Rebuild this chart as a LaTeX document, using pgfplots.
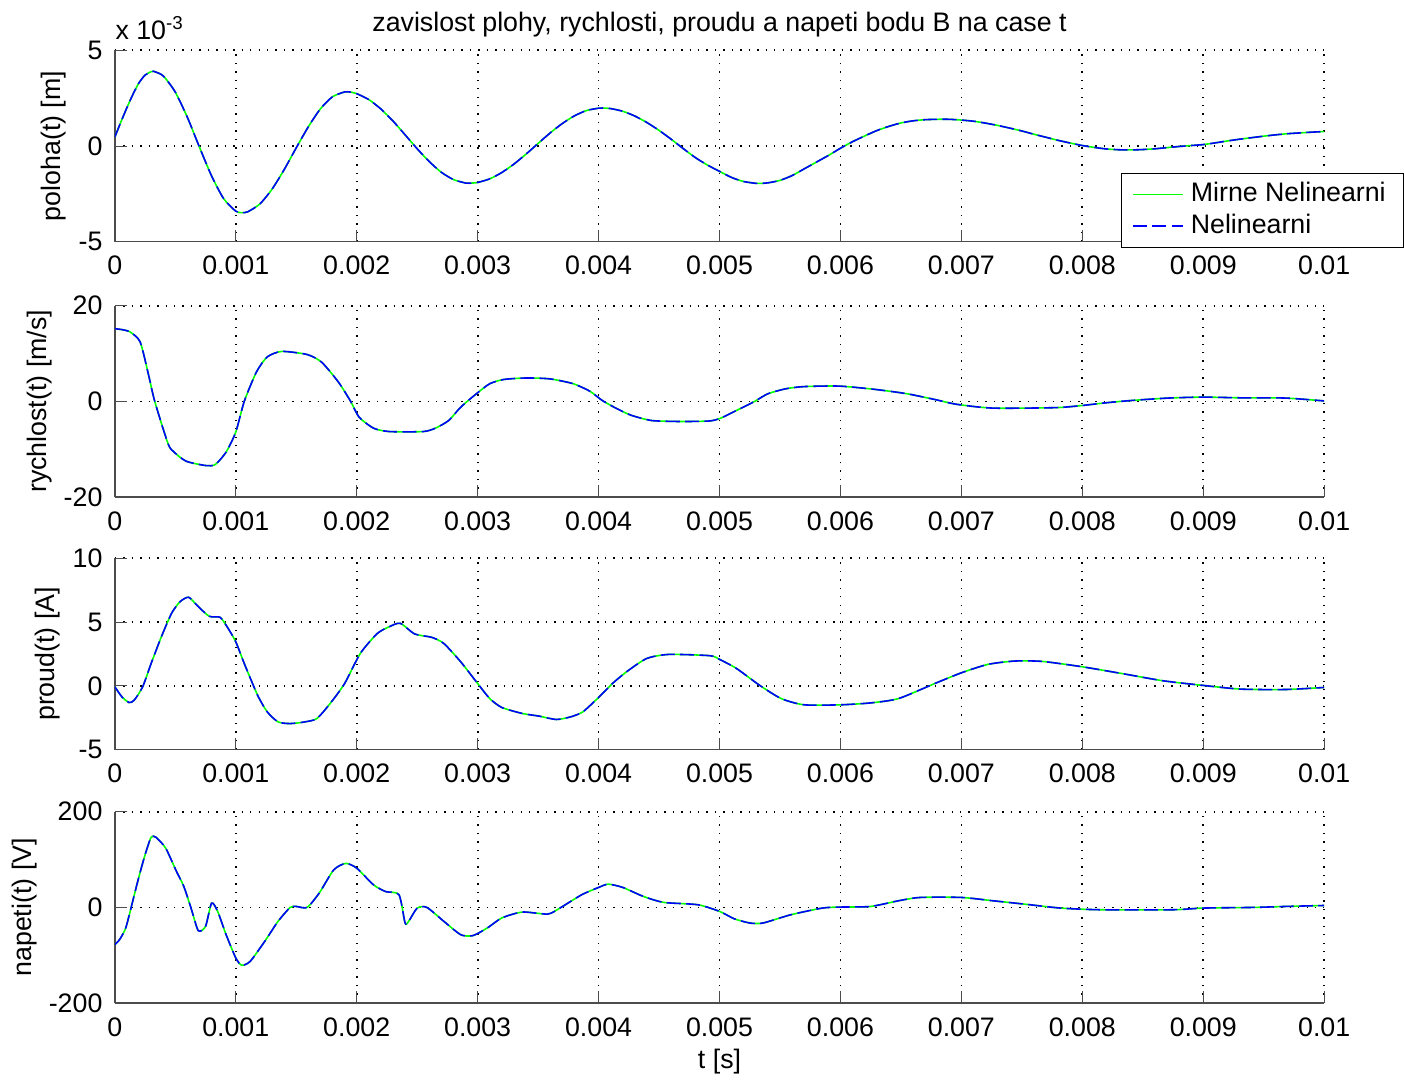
\documentclass[border=0pt]{standalone}
\usepackage{fontspec}
\setmainfont{Liberation Sans}
\usepackage{pgfplots}
\pgfplotsset{compat=1.18}
\usepackage{pgfplotstable}

% t in ms, poloha in 1e-3 m
\pgfplotstableread{
t y
0 0.46
0.05 1.25
0.1 2.0
0.15 2.7
0.2 3.3
0.25 3.7
0.3 3.88
0.32 3.9
0.4 3.66
0.5 2.81
0.6 1.49
0.7 -0.07
0.8 -1.57
0.9 -2.76
1.0 -3.41
1.05 -3.49
1.1 -3.44
1.2 -3.03
1.3 -2.26
1.4 -1.24
1.5 -0.1
1.6 1.0
1.7 1.94
1.8 2.57
1.9 2.82
1.95 2.81
2.0 2.73
2.1 2.42
2.2 1.93
2.3 1.30
2.4 0.58
2.5 -0.15
2.6 -0.82
2.7 -1.38
2.8 -1.76
2.9 -1.94
2.93 -1.95
3.0 -1.91
3.1 -1.72
3.2 -1.39
3.3 -0.95
3.4 -0.43
3.5 0.13
3.6 0.68
3.7 1.17
3.8 1.57
3.9 1.85
4.0 1.97
4.03 1.98
4.1 1.95
4.2 1.81
4.3 1.56
4.4 1.22
4.5 0.81
4.6 0.35
4.7 -0.14
4.8 -0.61
4.9 -1.0
5.0 -1.33
5.1 -1.65
5.2 -1.86
5.31 -1.96
5.4 -1.93
5.5 -1.8
5.6 -1.55
5.7 -1.2
5.8 -0.85
5.9 -0.5
6.0 -0.12
6.1 0.22
6.2 0.52
6.3 0.8
6.4 1.02
6.5 1.2
6.6 1.31
6.7 1.37
6.8 1.39
6.9 1.39
7.0 1.35
7.1 1.29
7.2 1.19
7.3 1.07
7.4 0.93
7.5 0.78
7.6 0.61
7.7 0.45
7.8 0.29
7.9 0.15
8.0 0.02
8.1 -0.08
8.2 -0.16
8.3 -0.2
8.4 -0.21
8.5 -0.19
8.6 -0.15
8.7 -0.09
8.8 -0.03
8.9 0.02
9.0 0.07
9.1 0.16
9.2 0.26
9.3 0.35
9.4 0.43
9.5 0.51
9.6 0.58
9.7 0.64
9.8 0.68
9.9 0.72
10.0 0.75
}\poloha

\pgfplotstableread{
t y
0 15.2
0.06 15.0
0.127 14.5
0.21 12.4
0.28 5.4
0.33 0
0.44 -8.85
0.49 -10.6
0.59 -12.5
0.75 -13.4
0.83 -13.2
0.92 -10.6
1.0 -6.4
1.07 0
1.17 6.1
1.26 9.3
1.38 10.45
1.59 9.8
1.71 8.2
1.85 4.0
1.95 0
2.02 -3.3
2.14 -5.6
2.27 -6.3
2.55 -6.3
2.65 -5.6
2.76 -4.0
2.86 -1.2
2.98 1.4
3.10 3.7
3.22 4.6
3.41 4.9
3.60 4.7
3.79 3.7
3.93 2.1
4.03 0.2
4.15 -1.5
4.27 -2.9
4.44 -4.0
4.68 -4.2
4.91 -4.1
5.0 -3.6
5.14 -1.9
5.29 0
5.40 1.6
5.55 2.65
5.70 3.1
5.99 3.2
6.29 2.5
6.55 1.6
6.78 0.4
6.96 -0.6
7.26 -1.4
7.78 -1.3
8.0 -0.85
8.19 -0.3
8.41 0.2
8.71 0.7
9.0 0.9
9.31 0.75
9.68 0.7
10.0 0.1
}\rychlost

\pgfplotstableread{
t y
0 -0.08
0.058 -0.86
0.117 -1.31
0.16 -1.13
0.23 -0.08
0.30 1.75
0.385 3.85
0.47 5.7
0.54 6.6
0.61 6.94
0.68 6.3
0.78 5.45
0.87 5.37
0.93 4.6
1.0 3.45
1.07 1.75
1.18 -0.73
1.26 -2.04
1.35 -2.83
1.45 -2.96
1.57 -2.83
1.67 -2.57
1.78 -1.39
1.90 0.18
2.03 2.54
2.17 4.1
2.27 4.63
2.36 4.9
2.48 4.06
2.62 3.8
2.72 3.32
2.86 1.88
3.0 0.18
3.10 -1.0
3.20 -1.7
3.37 -2.17
3.51 -2.38
3.65 -2.64
3.77 -2.43
3.87 -2.04
3.99 -1.0
4.13 0.31
4.25 1.23
4.40 2.15
4.58 2.46
4.92 2.36
5.0 2.07
5.14 1.36
5.33 0.05
5.51 -1.0
5.70 -1.49
6.0 -1.49
6.25 -1.34
6.48 -1.0
6.78 0.18
7.0 1.02
7.22 1.68
7.44 1.94
7.67 1.91
8.0 1.49
8.34 0.94
8.67 0.39
9.0 0.03
9.31 -0.26
9.68 -0.29
10.0 -0.13
}\proud

\pgfplotstableread{
t y
0 -77.8
0.04 -67
0.09 -43
0.144 9
0.196 61
0.25 110
0.30 146.5
0.34 146.5
0.42 124
0.51 75
0.57 44
0.63 -1.4
0.69 -48.6
0.75 -39.6
0.80 9
0.85 -8.3
0.92 -57
1.0 -105.6
1.05 -121
1.12 -112.5
1.24 -70.8
1.35 -29
1.45 0
1.50 2
1.59 0
1.69 30
1.81 78.5
1.91 92
2.0 82
2.14 47
2.24 33
2.35 26.4
2.40 -32.6
2.43 -29
2.50 -1.4
2.58 0
2.72 -29
2.86 -57
2.96 -59
3.08 -43
3.20 -22
3.37 -9.7
3.58 -13.9
3.68 -1.4
3.86 26.4
4.0 41.7
4.08 48.6
4.20 41.7
4.37 23
4.54 10.4
4.82 5.6
5.0 -8.3
5.12 -23.6
5.25 -32.6
5.36 -32.6
5.59 -15.3
5.85 -1.4
6.0 0.7
6.25 2
6.48 13.9
6.66 20.8
7.0 20.8
7.26 13.9
7.52 6.9
7.82 -1.4
8.15 -4.9
8.75 -4.9
9.0 -1.4
9.42 0
9.68 2
10.0 4
}\napeti

\newcommand{\fs}{\fontsize{7.6}{9}\selectfont}

\pgfplotsset{
  mat/.style={
    scale only axis, width=12.07cm, height=1.91cm,
    xmin=0, xmax=10,
    clip mode=individual,
    axis lines=left, axis line style={-, draw=black!70},
    tick align=inside, major tick length=0.12cm,
    tick style={black!70},
    grid=major, major grid style={dotted, black, line width=0.5pt},
    xtick={0,1,...,10},
    xticklabels={0,0.001,0.002,0.003,0.004,0.005,0.006,0.007,0.008,0.009,0.01},
    /pgf/number format/assume math mode=true,
    tick label style={font=\fs},
    label style={font=\fs},
    xticklabel style={yshift=-0.02cm},
    ylabel shift=-0.12cm,
  },
  mir/.style={green, line width=0.45pt, smooth, tension=0.4},
  nel/.style={blue, line width=0.45pt, smooth, tension=0.4, dash pattern=on 4pt off 1.5pt},
}

\begin{document}
\begin{tikzpicture}[font=\fs]
\begin{axis}[mat, anchor=north west, at={(0,0)},
    ymin=-5, ymax=5, ytick={-5,0,5},
    ylabel={poloha(t) [m]},
    title={zavislost plohy, rychlosti, proudu a napeti bodu B na case t},
    title style={font=\fs, yshift=-0.2cm},
    legend style={at={(rel axis cs:1.066,0.36)}, anchor=north east,
        draw=black, font=\fs, inner xsep=3pt, inner ysep=0.5pt, row sep=-2pt},
    legend cell align=left,
    legend image code/.code={\draw[#1] (0cm,0cm) -- (0.5cm,0cm);},
]
\addplot[mir] table[x=t, y=y] {\poloha};
\addplot[nel] table[x=t, y=y] {\poloha};
\legend{Mirne Nelinearni, Nelinearni}
\node[anchor=south west, inner sep=0pt, font=\fs] at (rel axis cs:0,1) [yshift=0.1cm] {x 10\textsuperscript{-3}};
\end{axis}

\begin{axis}[mat, anchor=north west, at={(0,-2.55cm)},
    ymin=-20, ymax=20, ytick={-20,0,20},
    ylabel={rychlost(t) [m/s]},
]
\addplot[mir] table[x=t, y=y] {\rychlost};
\addplot[nel] table[x=t, y=y] {\rychlost};
\end{axis}

\begin{axis}[mat, anchor=north west, at={(0,-5.07cm)},
    ymin=-5, ymax=10, ytick={-5,0,5,10},
    ylabel={proud(t) [A]},
]
\addplot[mir] table[x=t, y=y] {\proud};
\addplot[nel] table[x=t, y=y] {\proud};
\end{axis}

\begin{axis}[mat, anchor=north west, at={(0,-7.60cm)},
    ymin=-200, ymax=200, ytick={-200,0,200},
    ylabel={napeti(t) [V]},
    xlabel={t [s]}, xlabel style={yshift=0.12cm},
]
\addplot[mir] table[x=t, y=y] {\napeti};
\addplot[nel] table[x=t, y=y] {\napeti};
\end{axis}
\end{tikzpicture}
\end{document}
